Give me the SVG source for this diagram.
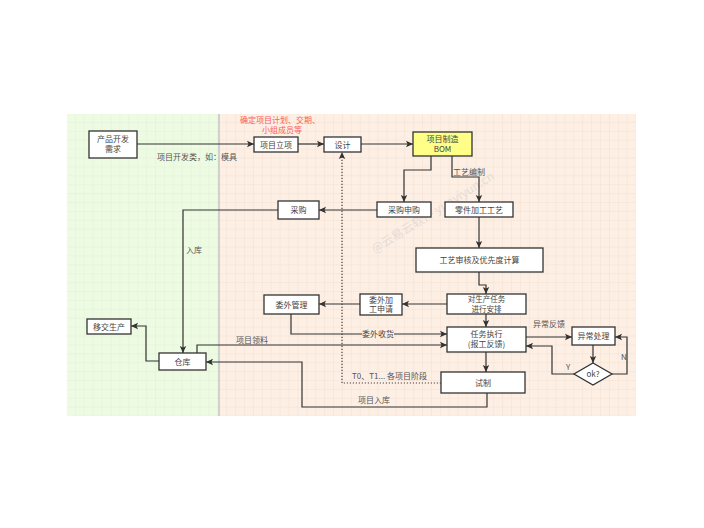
<svg xmlns="http://www.w3.org/2000/svg" width="704" height="528" viewBox="0 0 704 528">
<defs>
<pattern id="gg" width="8.9" height="8.9" patternUnits="userSpaceOnUse" x="67" y="114">
<path d="M8.9 0V8.9H0" fill="none" stroke="#dcebcf" stroke-width="0.7"/>
</pattern>
<pattern id="gp" width="8.9" height="8.9" patternUnits="userSpaceOnUse" x="67" y="114">
<path d="M8.9 0V8.9H0" fill="none" stroke="#f0dccc" stroke-width="0.7"/>
</pattern>
<marker id="ar" markerWidth="8" markerHeight="8" refX="7" refY="4" orient="auto" markerUnits="userSpaceOnUse">
<path d="M0 0.8L7 4L0 7.2L1.5 4Z" fill="#333"/>
</marker>
</defs>
<style>
.b{fill:#fff;stroke:#333;stroke-width:1.3}
.t{font-family:"Noto Sans CJK SC","Noto Sans",sans-serif;font-size:8px;fill:#444;text-anchor:middle}
.l{font-family:"Noto Sans CJK SC","Noto Sans",sans-serif;font-size:8px;fill:#555}
.c{fill:none;stroke:#333;stroke-width:1.2}
.d{fill:none;stroke:#444;stroke-width:1.2;stroke-dasharray:1.2 1.8}
</style>
<rect width="704" height="528" fill="#fff"/>
<rect x="67" y="114" width="152" height="302" fill="#eefbe3"/>
<rect x="67" y="114" width="152" height="302" fill="url(#gg)"/>
<rect x="219" y="114" width="417" height="302" fill="#fdefe4"/>
<rect x="219" y="114" width="417" height="302" fill="url(#gp)"/>
<line x1="219" y1="114" x2="219" y2="416" stroke="#c4c4c4" stroke-width="1.5"/>

<text x="435" y="216" transform="rotate(-32 435 216)" text-anchor="middle" style="font-family:'Noto Sans CJK SC',sans-serif;font-size:12px;fill:#c8c8c8;opacity:0.45">@云易云软件 yunyiyun.cn</text>

<g id="connectors">
<path class="c" d="M137 144H254" marker-end="url(#ar)"/>
<path class="c" d="M298 144H324" marker-end="url(#ar)"/>
<path class="c" d="M361 144H413" marker-end="url(#ar)"/>
<path class="c" d="M431 156V170H404V202" marker-end="url(#ar)"/>
<path class="c" d="M452 156V177H479V202" marker-end="url(#ar)"/>
<path class="c" d="M377 210H319" marker-end="url(#ar)"/>
<path class="c" d="M278 210H183V353" marker-end="url(#ar)"/>
<path class="c" d="M479 216V248" marker-end="url(#ar)"/>
<path class="c" d="M479 272V285H486V294" marker-end="url(#ar)"/>
<path class="c" d="M447 304H402" marker-end="url(#ar)"/>
<path class="c" d="M360 304H319" marker-end="url(#ar)"/>
<path class="c" d="M291 314V334H447" marker-end="url(#ar)"/>
<path class="c" d="M197 353V345H447" marker-end="url(#ar)"/>
<path class="c" d="M486 314V327" marker-end="url(#ar)"/>
<path class="c" d="M526 337H572" marker-end="url(#ar)"/>
<path class="c" d="M593 345V363" marker-end="url(#ar)"/>
<path class="c" d="M612 374H627V337H615" marker-end="url(#ar)"/>
<path class="c" d="M575 374H552V346H526" marker-end="url(#ar)"/>
<path class="c" d="M486 352V372" marker-end="url(#ar)"/>
<path class="d" d="M441 383H342V152" marker-end="url(#ar)"/>
<path class="c" d="M487 393V407H302V362H206" marker-end="url(#ar)"/>
<path class="c" d="M159 361H146V326H131" marker-end="url(#ar)"/>
<text x="157" y="160" class="l">项目开发类，如：模具</text>
<text x="280" y="123" class="t" style="fill:#ff5a5a">确定项目计划、交期、</text>
<text x="282" y="133" class="t" style="fill:#ff5a5a">小组成员等</text>
<text x="453" y="175" class="l">工艺编制</text>
<text x="186" y="253" class="l">入库</text>
<rect x="362" y="329" width="32" height="10" fill="#fdefe4"/>
<text x="378" y="337" class="t">委外收货</text>
<text x="236" y="343" class="l">项目领料</text>
<text x="533" y="327" class="l">异常反馈</text>
<text x="621" y="360" class="l">N</text>
<text x="566" y="370" class="l">Y</text>
<text x="352" y="379" class="l">T0、T1... 各项目阶段</text>
<text x="358" y="403" class="l">项目入库</text>
</g>

<g id="n-demand"><rect class="b" x="89" y="131" width="48" height="27"/><text x="113" y="142" class="t">产品开发</text><text x="113" y="152" class="t">需求</text></g>
<g id="n-project"><rect class="b" x="254" y="137" width="44" height="15"/><text x="276" y="147.5" class="t">项目立项</text></g>
<g id="n-design"><rect class="b" x="324" y="137" width="37" height="15"/><text x="342.5" y="147.5" class="t">设计</text></g>
<g id="n-bom"><rect x="413" y="132" width="59" height="24" fill="#ffff88" stroke="#333" stroke-width="1.3"/><text x="442.5" y="142" class="t">项目制造</text><text x="442.5" y="152" class="t">BOM</text></g>
<g id="n-purreq"><rect class="b" x="377" y="202" width="54" height="15"/><text x="404" y="212.5" class="t">采购申购</text></g>
<g id="n-parts"><rect class="b" x="445" y="202" width="68" height="15"/><text x="479" y="212.5" class="t">零件加工工艺</text></g>
<g id="n-purchase"><rect class="b" x="278" y="201" width="41" height="18"/><text x="298.5" y="213" class="t">采购</text></g>
<g id="n-review"><rect class="b" x="416" y="248" width="127" height="24"/><text x="479.5" y="263" class="t">工艺审核及优先度计算</text></g>
<g id="n-arrange"><rect class="b" x="447" y="294" width="79" height="20"/><text x="486.5" y="302" class="t" style="font-size:7.5px">对生产任务</text><text x="486.5" y="311.5" class="t" style="font-size:7.5px">进行安排</text></g>
<g id="n-outreq"><rect class="b" x="360" y="294" width="42" height="21"/><text x="381" y="302.5" class="t">委外加</text><text x="381" y="312" class="t">工申请</text></g>
<g id="n-outmgr"><rect class="b" x="264" y="295" width="55" height="19"/><text x="291.5" y="307.5" class="t">委外管理</text></g>
<g id="n-exec"><rect class="b" x="447" y="327" width="79" height="25"/><text x="486.5" y="337" class="t">任务执行</text><text x="486.5" y="347" class="t">(报工反馈)</text></g>
<g id="n-exception"><rect class="b" x="572" y="327" width="43" height="18"/><text x="593.5" y="339" class="t">异常处理</text></g>
<g id="n-ok"><path class="b" d="M593 363L612 374L593 385L574 374Z"/><text x="593" y="377" class="t">ok?</text></g>
<g id="n-trial"><rect class="b" x="441" y="372" width="84" height="21"/><text x="483" y="385.5" class="t">试制</text></g>
<g id="n-warehouse"><rect class="b" x="159" y="353" width="47" height="17"/><text x="182.5" y="364.5" class="t">仓库</text></g>
<g id="n-handover"><rect class="b" x="87" y="319" width="44" height="15"/><text x="109" y="329.5" class="t">移交生产</text></g>
</svg>
